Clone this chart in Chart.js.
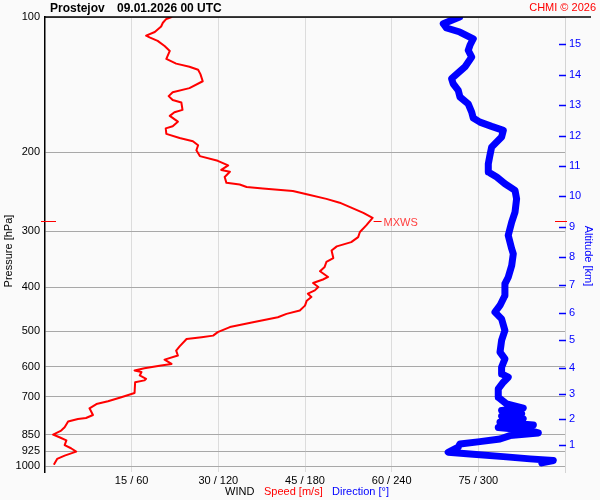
<!DOCTYPE html>
<html><head><meta charset="utf-8">
<script src="https://cdn.jsdelivr.net/npm/chart.js@4/dist/chart.umd.min.js"></script>
<style>html,body{margin:0;padding:0;background:#fafafa}#wrap{width:600px;height:500px}</style>
</head><body><div id="wrap"><canvas id="c" width="600" height="500"></canvas></div>
<script>
// ---- DATA ----
const stationName = 'Prostejov';
const runTime = '09.01.2026 00 UTC';
const speedTicks = [15, 30, 45, 60, 75];          // m/s
const directionTicks = [60, 120, 180, 240, 300];  // degrees
const pressureTicks = [100, 200, 300, 400, 500, 600, 700, 850, 925, 1000];
const altitudeKm = [15, 14, 13, 12, 11, 10, 9, 8, 7, 6, 5, 4, 3, 2, 1];
const altitudePressure = [115, 134.5, 156.8, 184.4, 214.4, 250.8, 293.6, 342.3, 395.9, 456.2, 524.8, 604, 692, 784.7, 896.6];

const speedPressure = [988,963,947,928,912,897,876,862,850,833,819,795,785,781,769,743,727,717,702,687,650,644,639,628,617,612,605,597,592,579,567,553,541,521,516,512,503,490,478,466,458,450,439,428,420,413,406,399,391,384,379,368,360,351,344,331,324,317,309,301,291,280,273,265,259,254,248,244,241,239,236,234,227,221,219,214,209,204,198,193,189,186,182,177,175,171,166,163,161,155,153,150,147,144,139,134,131,129,127,124,119,116,113,111,110,108,105,103,101,100];
const speedValues = [1.6,2.1,3.4,5.4,4.5,3.4,3.7,2.5,1.4,2.8,3.4,4.0,5.7,7.1,8.3,7.7,8.9,10.9,13.2,15.5,15.6,17.2,17.5,16.4,16.7,15.5,17.2,20.1,21.9,20.7,23.0,22.7,23.3,24.5,27.1,29.1,29.9,32.0,36.0,40.3,41.8,44.1,45.0,45.3,46.1,45.5,46.7,47.3,46.4,48.1,49.0,47.6,48.4,48.7,49.9,49.6,50.5,53.0,54.2,54.5,55.6,56.7,55.1,52.8,51.0,48.7,45.3,42.9,37.7,34.9,33.7,31.4,31.1,32.0,30.5,31.7,29.9,26.8,26.2,26.5,25.6,23.3,21.0,20.9,22.1,23.0,21.6,22.4,23.8,23.6,22.1,21.4,22.1,25.0,27.3,26.9,26.5,25.0,22.7,21.0,21.6,20.7,19.5,18.1,17.5,19.0,20.1,20.4,21.0,21.9];

const directionPressure = [100,103.5,105.8,108,111.8,115.6,118.6,122.8,129.2,137.2,140.8,145.6,150.7,156.1,162.8,167.9,171.4,175.2,178.8,185.0,194.8,203.3,212.2,221.3,227.1,235.1,243.2,253.9,271.8,286.1,306.3,328.1,336.7,357.3,379.5,392.7,416.8,438.6,453.9,469.9,498.5,524.8,557.3,576.8,601.9,622.9,633.6,650.1,672.8,702.1,726.6,742.8,751.6,764.7,773.9,784.7,798,809.2,820.1,832.8,843.1,854.7,869.7,881.4,892,907,931,939,952,963,971,983];
const directionValues = [287,275.7,278.0,287.2,296.5,294.2,293.0,295.4,290.7,281.5,282.6,286.1,287.3,293.0,295.4,296.5,301.1,309.2,317.3,316.1,309.2,308.0,306.9,306.9,312.7,318.4,325.4,326.5,325.4,323.1,320.7,323.1,324.2,323.1,320.7,318.4,318.4,315.0,311.5,316.1,318.4,316.1,315.0,318.4,316.1,316.1,320.7,317.3,313.8,313.8,319.6,331.1,316.1,330.0,316.1,331.1,315.0,338.1,313.8,335.8,341.5,321.9,315.0,301.1,287.3,286.1,279.1,294.2,317.3,335.8,351.9,343.9];

const mxwsPressure = 284;
const mxwsSpeed = 56.7;

// ---- CHART ----
const FONT = 'Liberation Sans, Arial, Helvetica, sans-serif';

const overlay = {
  id: 'overlay',
  beforeDraw(chart) {
    const c = chart.ctx;
    c.save();
    c.fillStyle = '#fafafa';
    c.fillRect(0, 0, chart.width, chart.height);
    c.restore();
  },
  afterDraw(chart) {
    const c = chart.ctx;
    const a = chart.chartArea;
    const ys = chart.scales.y;
    const xs = chart.scales.x;
    c.save();
    // top black line
    c.strokeStyle = '#000'; c.lineWidth = 1.5;
    c.beginPath(); c.moveTo(a.left, a.top); c.lineTo(591, a.top); c.stroke();
    // title
    c.fillStyle = '#000'; c.textBaseline = 'alphabetic'; c.textAlign = 'left';
    c.font = 'bold 12px ' + FONT;
    c.fillText(stationName, 50, 12);
    c.fillText(runTime, 117, 12);
    c.font = '11px ' + FONT;
    c.fillStyle = '#ff0000'; c.textAlign = 'right';
    c.fillText('CHMI \u00A9 2026', 596, 11);
    // bottom axis title
    c.textAlign = 'left';
    c.fillStyle = '#000'; c.fillText('WIND', 225, 495);
    c.fillStyle = '#ff0000'; c.fillText('Speed [m/s]', 264, 495);
    c.fillStyle = '#0000ff'; c.fillText('Direction [\u00B0]', 332, 495);
    // left axis title
    c.save();
    c.translate(12, 251); c.rotate(-Math.PI / 2);
    c.fillStyle = '#000'; c.textAlign = 'center';
    c.fillText('Pressure [hPa]', 0, 0);
    c.restore();
    // right axis title
    c.save();
    c.translate(585, 256); c.rotate(Math.PI / 2);
    c.fillStyle = '#0000ff'; c.textAlign = 'center';
    c.fillText('Altitude [km]', 0, 0);
    c.restore();
    // altitude tick dashes
    c.strokeStyle = '#0000ff'; c.lineWidth = 1.5;
    altitudePressure.forEach(p => {
      const y = Math.round(ys.getPixelForValue(p)) + 0.5;
      c.beginPath(); c.moveTo(a.right - 6, y); c.lineTo(a.right + 1, y); c.stroke();
    });
    // MXWS markers
    const my = Math.round(ys.getPixelForValue(mxwsPressure)) + 0.5;
    const mx = xs.getPixelForValue(mxwsSpeed);
    c.strokeStyle = '#ff0000'; c.lineWidth = 1;
    c.beginPath(); c.moveTo(a.left - 4, my); c.lineTo(a.left + 11, my); c.stroke();
    c.beginPath(); c.moveTo(a.right - 10, my); c.lineTo(a.right + 2, my); c.stroke();
    c.beginPath(); c.moveTo(mx + 1, my); c.lineTo(mx + 9, my); c.stroke();
    c.fillStyle = '#ff4040'; c.textAlign = 'left'; c.textBaseline = 'middle';
    c.font = '11px ' + FONT;
    c.fillText('MXWS', mx + 11, my + 1);
    c.restore();
  }
};

new Chart(document.getElementById('c'), {
  type: 'scatter',
  data: {
    datasets: [
      {
        label: 'Direction [\u00B0]',
        data: directionPressure.map((p, i) => ({ x: directionValues[i], y: p })),
        xAxisID: 'xDir', yAxisID: 'y',
        showLine: true, borderColor: '#0000ff', backgroundColor: '#0000ff',
        borderWidth: 7, pointRadius: 0, borderJoinStyle: 'round', borderCapStyle: 'round'
      },
      {
        label: 'Speed [m/s]',
        data: speedPressure.map((p, i) => ({ x: speedValues[i], y: p })),
        xAxisID: 'x', yAxisID: 'y',
        showLine: true, borderColor: '#ff0000', backgroundColor: '#ff0000',
        borderWidth: 2, pointRadius: 0, borderJoinStyle: 'round', borderCapStyle: 'round'
      }
    ]
  },
  options: {
    responsive: false, animation: false, devicePixelRatio: 1,
    layout: { padding: { top: 17, left: 0, right: 0, bottom: 0 } },
    plugins: { legend: { display: false }, tooltip: { enabled: false } },
    scales: {
      x: {
        type: 'linear', position: 'bottom', min: 0, max: 90,
        afterBuildTicks: s => { s.ticks = speedTicks.map(v => ({ value: v })); },
        afterFit: s => { s.height = 28; },
        grid: { color: '#dcdcdc', lineWidth: 1, drawTicks: false },
        border: { display: false },
        ticks: {
          padding: 2, color: '#000', font: { family: FONT, size: 11 },
          maxRotation: 0, autoSkip: false,
          callback: (v, i) => speedTicks[i] + ' / ' + directionTicks[i]
        }
      },
      xDir: { type: 'linear', display: false, min: 0, max: 360 },
      y: {
        type: 'logarithmic', position: 'left', reverse: true, min: 100, max: 1030,
        afterBuildTicks: s => { s.ticks = pressureTicks.map(v => ({ value: v })); },
        afterFit: s => { s.width = 45; },
        grid: { color: '#a8a8a8', lineWidth: 1, drawTicks: false },
        border: { color: '#000', width: 1.5 },
        ticks: {
          padding: 5, color: '#000', font: { family: FONT, size: 11 }, autoSkip: false,
          callback: (v, i) => String(pressureTicks[i])
        }
      },
      yAlt: {
        type: 'logarithmic', position: 'right', reverse: true, min: 100, max: 1030,
        afterBuildTicks: s => { s.ticks = altitudePressure.map(v => ({ value: v })); },
        afterFit: s => { s.width = 35; },
        grid: { drawOnChartArea: false, drawTicks: false },
        border: { color: '#d4d4d4', width: 1 },
        ticks: {
          padding: 4, color: '#0000ff', font: { family: FONT, size: 11 }, autoSkip: false,
          callback: (v, i) => String(altitudeKm[i])
        }
      }
    }
  },
  plugins: [overlay]
});
</script>
</body></html>
